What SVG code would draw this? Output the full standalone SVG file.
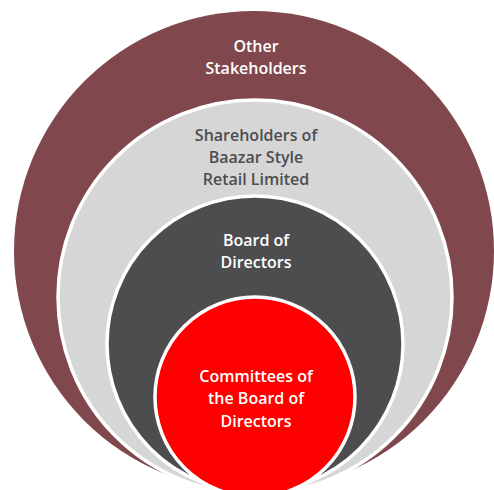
<svg xmlns="http://www.w3.org/2000/svg" width="494" height="490" viewBox="0 0 494 490">
<style>
.ring{stroke:#ffffff;stroke-width:3.5}
.t{font-family:"Open Sans","Liberation Sans",sans-serif;font-weight:600;font-size:16px;text-anchor:middle}
.w{fill:#ffffff}
.g{fill:#4d4d4f}
</style>
<rect width="494" height="490" fill="#ffffff"/>
<g id="other-stakeholders">
<circle cx="254" cy="251" r="240" fill="#80474c"/>
<text class="t w" x="256" y="52">Other</text>
<text class="t w" x="256" y="74">Stakeholders</text>
</g>
<g id="shareholders">
<circle class="ring" cx="255" cy="297" r="197" fill="#d6d6d6"/>
<text class="t g" x="256" y="141">Shareholders of</text>
<text class="t g" x="256" y="163">Baazar Style</text>
<text class="t g" x="256" y="185">Retail Limited</text>
</g>
<g id="board">
<circle class="ring" cx="255" cy="344" r="148" fill="#4d4d4f"/>
<text class="t w" x="256" y="246">Board of</text>
<text class="t w" x="256" y="268">Directors</text>
</g>
<g id="committees">
<circle class="ring" cx="255" cy="397" r="100" fill="#ff0000"/>
<text class="t w" x="256" y="382">Committees of</text>
<text class="t w" x="256" y="404">the Board of</text>
<text class="t w" x="256" y="427">Directors</text>
</g>
<g id="connectors"/>
</svg>
